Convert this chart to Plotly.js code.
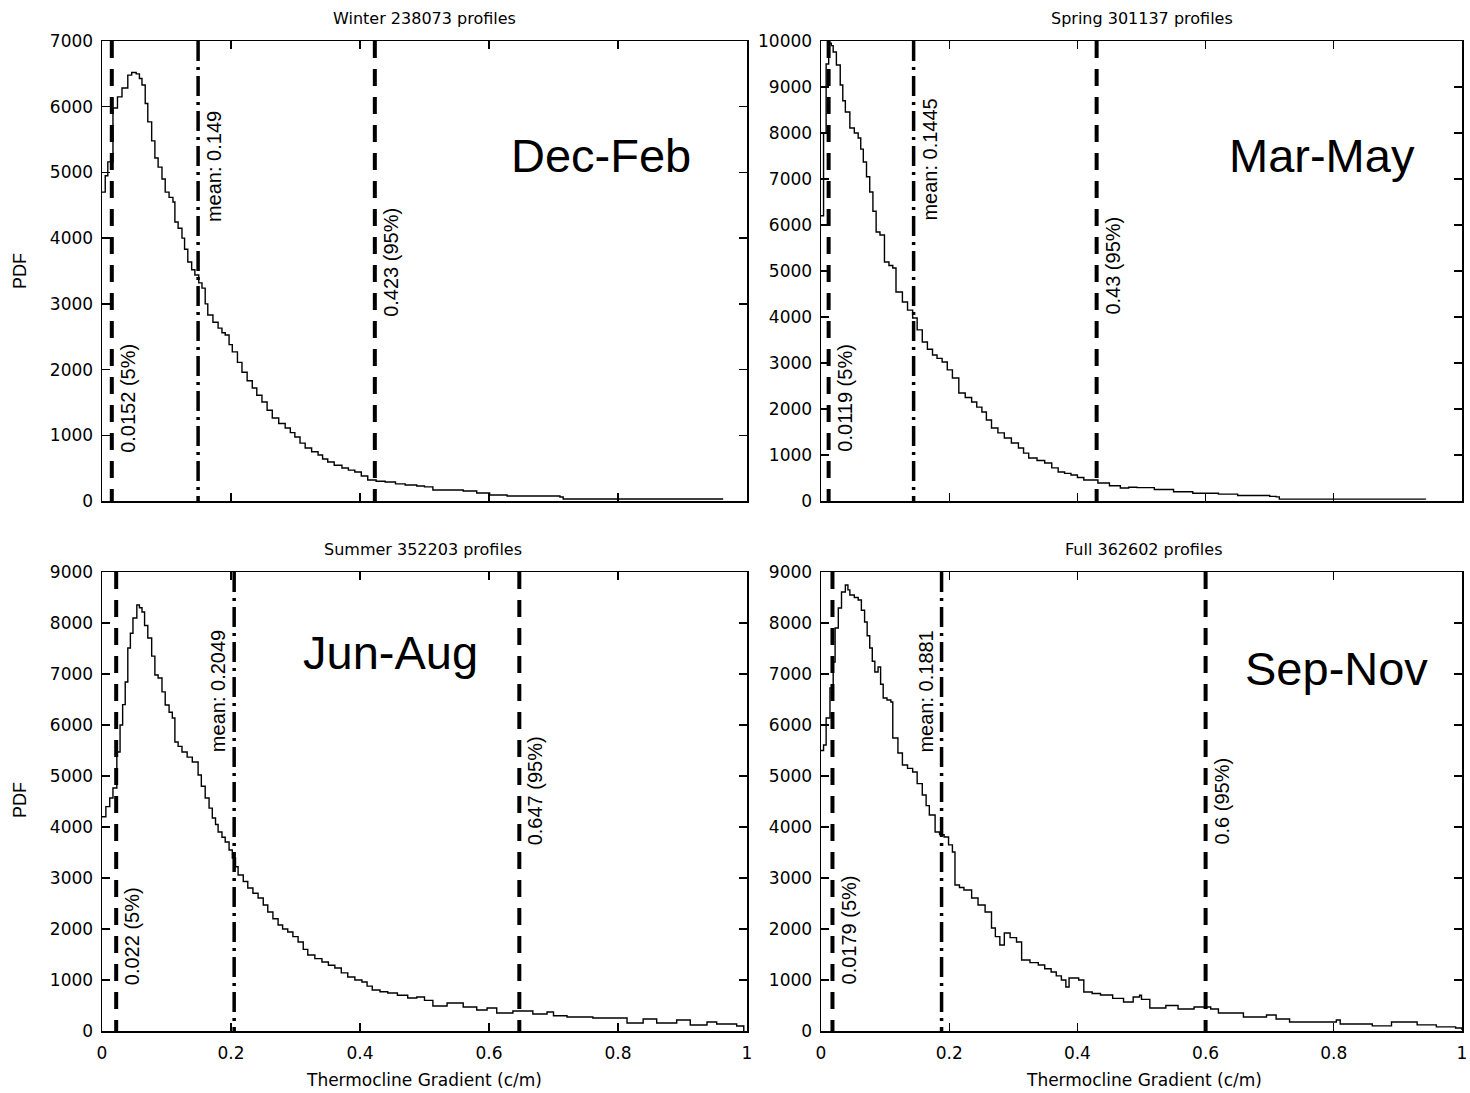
<!DOCTYPE html>
<html>
<head>
<meta charset="utf-8">
<script src="https://cdn.plot.ly/plotly-3.0.1.min.js"></script>
<style>html,body{margin:0;padding:0;background:#fff}#chart{width:1470px;height:1093px}</style>
</head>
<body>
<div id="chart"></div>
<script>
// ---------------- DATA ----------------
const panelTitles = ["Winter 238073 profiles", "Spring 301137 profiles", "Summer 352203 profiles", "Full 362602 profiles"];
const seasonLabels = ["Dec-Feb", "Mar-May", "Jun-Aug", "Sep-Nov"];
const xTickVals = [0, 0.2, 0.4, 0.6, 0.8, 1];
const xTickText = ["0", "0.2", "0.4", "0.6", "0.8", "1"];
const yMax = [7000, 10000, 9000, 9000];
const xTitle = "Thermocline Gradient (c/m)";
const yTitle = "PDF";

const winterX = [0.000,0.005,0.009,0.017,0.024,0.031,0.040,0.046,0.053,0.058,0.062,0.067,0.071,0.077,0.082,0.087,0.093,0.098,0.104,0.110,0.113,0.118,0.124,0.128,0.133,0.139,0.144,0.150,0.155,0.160,0.164,0.172,0.180,0.186,0.191,0.197,0.202,0.210,0.217,0.225,0.233,0.240,0.248,0.256,0.264,0.274,0.284,0.292,0.299,0.307,0.315,0.325,0.335,0.342,0.350,0.360,0.372,0.382,0.392,0.402,0.412,0.425,0.439,0.455,0.470,0.488,0.500,0.513,0.560,0.581,0.601,0.628,0.710,0.715,0.963];
const winterY = [4700,4950,5160,5980,6150,6285,6480,6520,6500,6430,6330,6050,5770,5480,5220,5080,4900,4700,4620,4550,4245,4150,4000,3830,3637,3520,3440,3320,3240,3000,2830,2720,2630,2560,2525,2380,2270,2110,1960,1830,1720,1610,1506,1380,1263,1180,1110,1040,974,880,806,750,700,640,593,545,502,470,441,380,320,300,289,260,243,228,215,167,152,122,91,76,61,30,30];

const springX = [0.000,0.004,0.008,0.012,0.016,0.019,0.024,0.030,0.034,0.038,0.045,0.052,0.058,0.062,0.066,0.071,0.076,0.081,0.086,0.092,0.099,0.106,0.112,0.117,0.127,0.135,0.143,0.150,0.158,0.166,0.174,0.181,0.189,0.197,0.205,0.215,0.225,0.235,0.243,0.251,0.258,0.266,0.276,0.286,0.297,0.308,0.316,0.324,0.337,0.349,0.360,0.370,0.380,0.390,0.400,0.410,0.432,0.450,0.467,0.480,0.493,0.520,0.550,0.580,0.620,0.650,0.700,0.710,0.715,0.943];
const springY = [6200,8000,9500,9950,9900,9761,9478,9043,8700,8457,8109,8000,7891,7650,7370,7050,6718,6300,5848,5783,5196,5120,5065,4544,4326,4150,3978,3720,3457,3300,3174,3100,3022,2850,2674,2348,2250,2152,2040,1935,1760,1587,1480,1370,1260,1152,1040,935,880,826,720,630,600,565,510,457,391,330,283,300,290,250,200,170,150,120,100,90,40,30];

const summerX = [0.000,0.006,0.012,0.017,0.023,0.028,0.032,0.036,0.040,0.044,0.048,0.054,0.058,0.062,0.066,0.071,0.077,0.082,0.087,0.093,0.098,0.104,0.109,0.113,0.118,0.124,0.132,0.140,0.149,0.154,0.160,0.166,0.171,0.176,0.180,0.186,0.191,0.197,0.202,0.207,0.211,0.219,0.226,0.234,0.242,0.250,0.257,0.265,0.273,0.280,0.288,0.296,0.304,0.312,0.319,0.330,0.341,0.351,0.361,0.371,0.381,0.392,0.403,0.411,0.419,0.431,0.443,0.458,0.474,0.488,0.500,0.513,0.535,0.560,0.581,0.597,0.612,0.637,0.668,0.690,0.700,0.721,0.761,0.803,0.814,0.839,0.860,0.891,0.912,0.938,0.953,0.984,0.995];
const summerY = [4200,4400,4570,4765,5471,6000,6400,6844,7510,7800,8099,8354,8300,8216,7950,7707,7350,6981,6922,6650,6393,6250,6138,5667,5580,5471,5370,5275,5020,4800,4569,4370,4177,4050,3902,3800,3706,3550,3392,3220,3059,2930,2804,2700,2608,2470,2334,2200,2079,2000,1941,1850,1745,1600,1490,1420,1353,1290,1235,1140,1059,1000,961,880,804,770,745,700,647,667,600,490,549,471,412,451,353,392,333,373,300,275,255,255,157,235,157,216,118,177,137,98,0];

const fullX = [0.000,0.004,0.008,0.014,0.019,0.022,0.027,0.032,0.038,0.042,0.045,0.052,0.058,0.063,0.068,0.072,0.076,0.080,0.084,0.089,0.093,0.097,0.103,0.109,0.112,0.120,0.127,0.135,0.143,0.150,0.158,0.164,0.169,0.178,0.185,0.192,0.199,0.205,0.209,0.216,0.223,0.235,0.245,0.256,0.266,0.272,0.279,0.286,0.295,0.305,0.313,0.326,0.339,0.349,0.359,0.367,0.375,0.382,0.387,0.402,0.410,0.423,0.436,0.455,0.472,0.487,0.497,0.500,0.513,0.538,0.557,0.582,0.608,0.620,0.659,0.695,0.710,0.731,0.767,0.804,0.810,0.860,0.890,0.930,0.960,0.990,1.000];
const fullY = [5500,5609,6138,6726,7236,7903,8295,8609,8746,8650,8550,8500,8452,8250,8020,7750,7510,7250,7040,7138,6800,6530,6490,6452,5746,5450,5216,5150,5079,4850,4628,4420,4236,3902,3850,3804,3650,3510,2863,2815,2765,2608,2470,2334,2020,1850,1686,1922,1830,1745,1392,1340,1294,1220,1157,1080,1000,863,1039,1000,765,735,706,640,569,667,700,620,451,500,431,470,431,353,275,314,235,177,177,216,137,100,177,120,80,60,20];

// statistic lines: 5%, mean, 95%
const p5Vals   = [0.0152, 0.0119, 0.022, 0.0179];
const meanVals = [0.149, 0.1445, 0.2049, 0.1881];
const p95Vals  = [0.423, 0.43, 0.647, 0.6];
const p5Text   = ["0.0152 (5%)", "0.0119 (5%)", "0.022 (5%)", "0.0179 (5%)"];
const meanText = ["mean: 0.149", "mean: 0.1445", "mean: 0.2049", "mean: 0.1881"];
const p95Text  = ["0.423 (95%)", "0.43 (95%)", "0.647 (95%)", "0.6 (95%)"];
// label centre heights (data units)
const p5LabelY   = [1567, 2239, 1863, 1981];
const meanLabelY = [5083, 7413, 6667, 6647];
const p95LabelY  = [3637, 5109, 4706, 4510];

// ---------------- LAYOUT HELPERS ----------------
const W = 1470, H = 1093;
const PX = v => v / W;
const PY = v => 1 - v / H;
const xDom = [[PX(102), PX(747)], [PX(821), PX(1462)], [PX(102), PX(747)], [PX(821), PX(1462)]];
const yDom = [[PY(501), PY(41)], [PY(501), PY(41)], [PY(1031), PY(572)], [PY(1031), PY(572)]];
const curvesX = [winterX, springX, summerX, fullX];
const curvesY = [winterY, springY, summerY, fullY];
const meanSide = [1, 1, -1, -1]; // +1 label right of line, -1 left

const tickFont = {family: "DejaVu Sans", size: 17, color: "#000"};
const textFont = {family: "Liberation Sans, Arial", size: 20, color: "#000"};

const traces = [];
const annotations = [];
const layout = {
  width: W, height: H,
  margin: {l: 0, r: 0, t: 0, b: 0},
  paper_bgcolor: "#fff", plot_bgcolor: "#fff",
  showlegend: false,
  annotations: annotations
};

for (let i = 0; i < 4; i++) {
  const sfx = i === 0 ? "" : String(i + 1);
  const xa = "x" + sfx, ya = "y" + sfx;
  const common = {
    showline: true, linecolor: "#000", linewidth: 1.5, mirror: "ticks",
    ticks: "inside", ticklen: 8, tickwidth: 1.3, tickcolor: "#000",
    showgrid: false, zeroline: false, tickfont: tickFont, fixedrange: true,
    ticklabeloverflow: "allow"
  };
  layout["xaxis" + sfx] = Object.assign({}, common, {
    domain: xDom[i], range: [0, 1], anchor: ya,
    tickmode: "array", tickvals: xTickVals, ticktext: xTickText,
    showticklabels: i >= 2, ticklabelstandoff: 6
  });
  layout["yaxis" + sfx] = Object.assign({}, common, {
    domain: yDom[i], range: [0, yMax[i]], anchor: xa,
    dtick: 1000, tick0: 0, tickformat: "d",
    ticklabelstandoff: 4
  });

  traces.push({x: curvesX[i], y: curvesY[i], xaxis: xa, yaxis: ya, mode: "lines",
               line: {color: "#000", width: 1.4, shape: "hv"}, hoverinfo: "skip"});
  const vline = (v, dash, w) => ({x: [v, v], y: [yMax[i], 0], xaxis: xa, yaxis: ya, mode: "lines",
               line: {color: "#000", width: w, dash: dash}, hoverinfo: "skip"});
  traces.push(vline(p5Vals[i], "17px,11px", 4));
  traces.push(vline(meanVals[i], "20px,6px,3px,6px", 3.5));
  traces.push(vline(p95Vals[i], "17px,11px", 4));

  const lab = (v, yv, txt, side) => ({
    x: v, y: yv, xref: xa, yref: ya, text: txt, showarrow: false, textangle: -90,
    xanchor: side > 0 ? "left" : "right", yanchor: "middle", xshift: side > 0 ? 3 : -3,
    font: textFont
  });
  annotations.push(lab(p5Vals[i], p5LabelY[i], p5Text[i], 1));
  annotations.push(lab(meanVals[i], meanLabelY[i], meanText[i], meanSide[i]));
  annotations.push(lab(p95Vals[i], p95LabelY[i], p95Text[i], 1));
}

// titles
const titlePos = [[424, 18], [1142, 18], [423, 549], [1143, 549]];
panelTitles.forEach((t, i) => annotations.push({
  x: PX(titlePos[i][0]), y: PY(titlePos[i][1]), xref: "paper", yref: "paper", text: t,
  showarrow: false, xanchor: "center", yanchor: "middle",
  font: {family: "DejaVu Sans", size: 16, color: "#000"}
}));
// season labels
const seasonPos = [[601, 155], [1322, 155], [390, 652], [1336, 668]];
seasonLabels.forEach((t, i) => annotations.push({
  x: PX(seasonPos[i][0]), y: PY(seasonPos[i][1]), xref: "paper", yref: "paper", text: t,
  showarrow: false, xanchor: "center", yanchor: "middle",
  font: {family: "Liberation Sans, Arial", size: 47, color: "#000"}
}));
// axis titles
[[424, 1080], [1144, 1080]].forEach(p => annotations.push({
  x: PX(p[0]), y: PY(p[1]), xref: "paper", yref: "paper", text: xTitle,
  showarrow: false, xanchor: "center", yanchor: "middle",
  font: {family: "DejaVu Sans", size: 17, color: "#000"}
}));
[[20, 271], [20, 800]].forEach(p => annotations.push({
  x: PX(p[0]), y: PY(p[1]), xref: "paper", yref: "paper", text: yTitle,
  showarrow: false, xanchor: "center", yanchor: "middle", textangle: -90,
  font: {family: "Liberation Sans, Arial", size: 18, color: "#000"}
}));

Plotly.newPlot("chart", traces, layout, {staticPlot: true, displayModeBar: false});
</script>
</body>
</html>
